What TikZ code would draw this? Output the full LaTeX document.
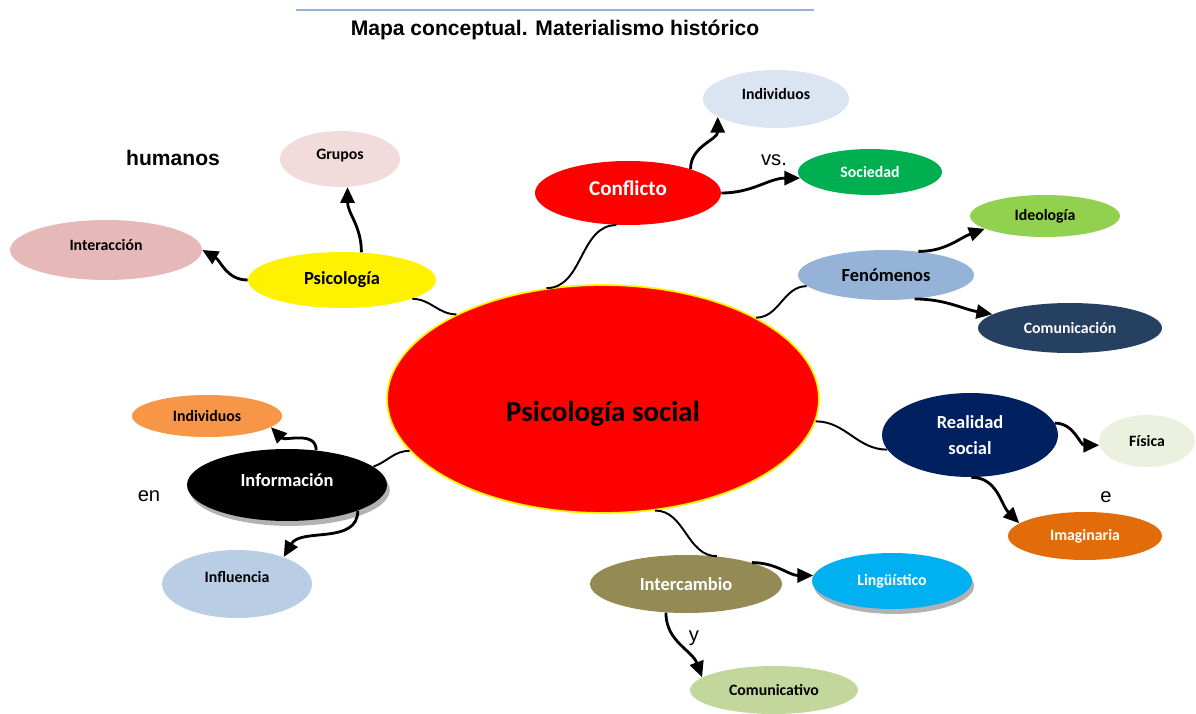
\documentclass[tikz,border=0pt]{standalone}
\usepackage{fontspec}
\setmainfont{Carlito}
\newfontfamily\arialfont{Liberation Sans}
\usetikzlibrary{shapes.geometric,arrows.meta,shadows}

\definecolor{ruleblue}{HTML}{95B3D7}
\definecolor{paleblue}{HTML}{DBE5F1}
\definecolor{palepink}{HTML}{F2DCDB}
\definecolor{rosy}{HTML}{E6B9B8}
\definecolor{grass}{HTML}{00B050}
\definecolor{lime}{HTML}{92D050}
\definecolor{steel}{HTML}{95B3D7}
\definecolor{slate}{HTML}{254061}
\definecolor{tangerine}{HTML}{F79646}
\definecolor{sky}{HTML}{B9CDE5}
\definecolor{navy}{HTML}{002060}
\definecolor{cream}{HTML}{EBF1DE}
\definecolor{rust}{HTML}{E36C0A}
\definecolor{olive}{HTML}{948A54}
\definecolor{cyanish}{HTML}{00B0F0}
\definecolor{sage}{HTML}{C3D69B}

\begin{document}
\begin{tikzpicture}[x=0.02cm,y=0.02cm,
    bubble/.style={ellipse,inner sep=0pt,font=\bfseries\fontsize{9}{11}\selectfont},
    mid/.style={font=\bfseries\fontsize{10.5}{15}\selectfont},
    word/.style={font=\arialfont\fontsize{11.5}{13}\selectfont},
    tie/.style={line width=1.1pt},
    link/.style={line width=1.6pt,-{Triangle[length=9pt,width=8pt]}}]
    \useasboundingbox (0,0) rectangle (1196,-713);

    % title
    \draw[ruleblue,line width=1.2pt] (296,-10) -- (814,-10);
    \node[font=\arialfont\bfseries\fontsize{12}{14}\selectfont] (title) at (555,-30) {Mapa conceptual. Materialismo histórico};

    % centre
    \node[bubble,fill=red,draw=yellow,line width=1pt,minimum width=8.64cm,minimum height=4.56cm,
          font=\bfseries\fontsize{16.5}{19}\selectfont,text height=1.0cm,text depth=0.1cm] (main) at (603,-399) {Psicología social};

    % branches
    \node[bubble,mid,fill=red,text=white,minimum width=3.72cm,minimum height=1.28cm,
          font=\bfseries\fontsize{12}{14}\selectfont,text depth=5.6pt] (conflicto) at (628,-193) {Conflicto};
    \node[bubble,fill=paleblue,minimum width=2.92cm,minimum height=1.16cm,text depth=5.6pt] (individuosA) at (776,-99) {Individuos};
    \node[bubble,fill=grass,text=white,minimum width=2.88cm,minimum height=0.92cm] (sociedad) at (870,-172) {Sociedad};

    \node[bubble,mid,fill=yellow,minimum width=3.76cm,minimum height=1.12cm] (psicologia) at (342,-280) {Psicología};
    \node[bubble,fill=palepink,minimum width=2.4cm,minimum height=1.12cm,text depth=5.2pt] (grupos) at (340,-159) {Grupos};
    \node[bubble,fill=rosy,minimum width=3.84cm,minimum height=1.2cm,text depth=5.6pt] (interaccion) at (106,-250) {Interacción};

    \node[bubble,mid,fill=steel,minimum width=3.52cm,minimum height=1cm] (fenomenos) at (886,-275) {Fenómenos};
    \node[bubble,fill=lime,minimum width=3cm,minimum height=0.84cm] (ideologia) at (1045,-216) {Ideología};
    \node[bubble,fill=slate,text=white,minimum width=3.68cm,minimum height=1cm] (comunicacion) at (1070,-328) {Comunicación};

    \node[bubble,mid,fill=black,text=white,minimum width=4cm,minimum height=1.44cm,text depth=5.6pt,
          drop shadow={shadow xshift=1.6pt,shadow yshift=-2.8pt,fill=black!30,opacity=1}] (informacion) at (287,-485) {Información};
    \node[bubble,fill=tangerine,minimum width=3cm,minimum height=0.84cm] (individuosB) at (207,-416) {Individuos};
    \node[bubble,fill=sky,minimum width=3cm,minimum height=1.36cm,text depth=8pt] (influencia) at (237,-584) {Influencia};

    \node[bubble,mid,fill=navy,text=white,align=center,minimum width=3.52cm,minimum height=1.68cm] (realidad) at (970,-435) {Realidad\\social};
    \node[bubble,fill=cream,minimum width=1.92cm,minimum height=1.04cm] (fisica) at (1147,-441) {Física};
    \node[bubble,fill=rust,text=white,minimum width=3.08cm,minimum height=0.96cm] (imaginaria) at (1085,-536) {Imaginaria};

    \node[bubble,mid,fill=olive,text=white,minimum width=3.84cm,minimum height=1.16cm] (intercambio) at (686,-584) {Intercambio};
    \node[bubble,fill=cyanish,text=white,minimum width=3.2cm,minimum height=1.12cm,
          drop shadow={shadow xshift=1.2pt,shadow yshift=-2.8pt,fill=black!30,opacity=1}] (linguistico) at (892,-581) {Lingüístico};
    \node[bubble,fill=sage,minimum width=3.36cm,minimum height=0.96cm] (comunicativo) at (774,-690) {Comunicativo};

    % loose words
    \node[word,font=\arialfont\bfseries\fontsize{12}{14}\selectfont] (humanos) at (173,-158) {humanos};
    \node[word] (vs) at (774,-160) {vs.};
    \node[word] (en) at (149,-496) {en};
    \node[word] (e) at (1106,-497) {e};
    \node[word] (y) at (694,-638) {y};

    % connectors
    \draw[tie] (main.117) to[out=0,in=180] (conflicto.250);
    \draw[tie] (main.150) to[out=180,in=0] (psicologia.-15);
    \draw[tie] (main.28) to[out=0,in=180] (fenomenos.188);
    \draw[tie] (main.195) to[out=180,in=20] (informacion.12);
    \draw[tie] (main.-6) to[out=0,in=180] (realidad.190);
    \draw[tie] (main.-65) to[out=0,in=180] (intercambio.42);

    \draw[link] (conflicto.21) to[out=90,in=-90] (individuosA.197);
    \draw[link] (conflicto.east) to[out=0,in=180] (sociedad.185);
    \draw[link] (psicologia.west) to[out=180,in=-30] (interaccion.east);
    \draw[link] (psicologia.55) to[out=90,in=-90] (grupos.-75);
    \draw[link] (fenomenos.36) to[out=0,in=200] (ideologia.192);
    \draw[link] (fenomenos.-40) to[out=0,in=170] (comunicacion.170);
    \draw[link] (informacion.50) to[out=90,in=-45] (individuosB.-10);
    \draw[link] (informacion.-20) to[out=-90,in=60] (influencia.30);
    \draw[link] (realidad.8) to[out=0,in=180] (fisica.185);
    \draw[link] (realidad.-88) to[out=0,in=135] (imaginaria.169);
    \draw[link] (intercambio.18) to[out=0,in=180] (linguistico.176);
    \draw[link] (intercambio.-125) to[out=-90,in=110] (comunicativo.170);
\end{tikzpicture}
\end{document}
